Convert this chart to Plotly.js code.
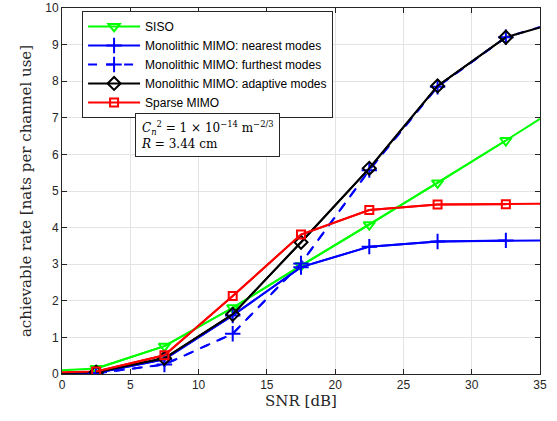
<!DOCTYPE html>
<html>
<head>
<meta charset="utf-8">
<script src="https://cdn.plot.ly/plotly-3.0.1.min.js"></script>
<style>html,body{margin:0;padding:0;background:#fff;}#chart{width:557px;height:421px;}</style>
</head>
<body>
<div id="chart"></div>
<script>
var snr = [0, 2.5, 7.5, 12.5, 17.5, 22.5, 27.5, 32.5, 35];
var siso = [0.1, 0.15, 0.76, 1.81, 2.96, 4.08, 5.22, 6.38, 6.97];
var nearest = [0.02, 0.03, 0.40, 1.60, 2.92, 3.48, 3.62, 3.65, 3.65];
var furthest = [0.0, 0.02, 0.26, 1.10, 3.02, 5.57, 7.85, 9.20, 9.48];
var adaptive = [0.03, 0.05, 0.43, 1.63, 3.60, 5.62, 7.87, 9.20, 9.47];
var sparse = [0.05, 0.07, 0.51, 2.13, 3.81, 4.48, 4.63, 4.64, 4.65];

var names = ['SISO', 'Monolithic MIMO: nearest modes', 'Monolithic MIMO: furthest modes', 'Monolithic MIMO: adaptive modes', 'Sparse MIMO'];
var series = [siso, nearest, furthest, adaptive, sparse];
var colors = ['#00ff00', '#0000ff', '#0000ff', '#000000', '#ff0000'];
var dashes = ['solid', 'solid', 'dash', 'solid', 'solid'];
var symbols = ['triangle-down-open', 'cross-thin-open', 'cross-thin-open', 'diamond-open', 'square-open'];
var msizes = [10, 11, 11, 10, 8];

var traces = [];
for (var i = 0; i < series.length; i++) {
  traces.push({
    x: snr, y: series[i], mode: 'lines', showlegend: false, hoverinfo: 'skip',
    line: {color: colors[i], width: 2, dash: dashes[i]}
  });
}
for (var i = 0; i < series.length; i++) {
  traces.push({
    x: snr.slice(1, -1), y: series[i].slice(1, -1), mode: 'lines+markers', name: names[i],
    line: {color: colors[i], width: 2, dash: dashes[i]},
    marker: {symbol: symbols[i], size: msizes[i], color: colors[i], line: {color: colors[i], width: 2}}
  });
}

var axisCommon = {
  showline: true, linecolor: '#262626', linewidth: 1, mirror: 'ticks',
  ticks: 'inside', ticklen: 5, tickcolor: '#262626',
  showgrid: true, gridcolor: '#e3e3e3', gridwidth: 1, zeroline: false,
  ticklabeloverflow: 'allow',
  tickfont: {family: 'Liberation Sans, Arial, sans-serif', size: 12, color: '#262626'}
};

var layout = {
  width: 557, height: 421,
  margin: {l: 62, r: 17, t: 8, b: 47},
  paper_bgcolor: '#ffffff', plot_bgcolor: '#ffffff',
  xaxis: Object.assign({}, axisCommon, {
    range: [0, 35], dtick: 5,
    title: {text: 'SNR [dB]', font: {family: 'DejaVu Serif, serif', size: 15, color: '#262626'}, standoff: 4}
  }),
  yaxis: Object.assign({}, axisCommon, {
    range: [0, 10], dtick: 1,
    title: {text: 'achievable rate [nats per channel use]', font: {family: 'DejaVu Serif, serif', size: 15, color: '#262626'}, standoff: 9}
  }),
  legend: {
    x: 0.042, y: 0.992, xanchor: 'left', yanchor: 'top',
    bgcolor: '#ffffff', bordercolor: '#262626', borderwidth: 1,
    font: {family: 'Liberation Sans, Arial, sans-serif', size: 12, color: '#000000'},
    itemwidth: 52, tracegroupgap: 0
  },
  annotations: [{
    xref: 'paper', yref: 'paper', x: 0.153, y: 0.712, xanchor: 'left', yanchor: 'top',
    showarrow: false, align: 'left',
    text: '<i>C</i><sub><i>n</i></sub><sup>2</sup> = 1 × 10<sup>−14</sup> m<sup>−2/3</sup><br><i>R</i> = 3.44 cm',
    font: {family: 'DejaVu Serif, serif', size: 12, color: '#000000'},
    bgcolor: '#ffffff', bordercolor: '#262626', borderwidth: 1, borderpad: 5
  }]
};

Plotly.newPlot('chart', traces, layout, {displayModeBar: false, staticPlot: true});
</script>
</body>
</html>
